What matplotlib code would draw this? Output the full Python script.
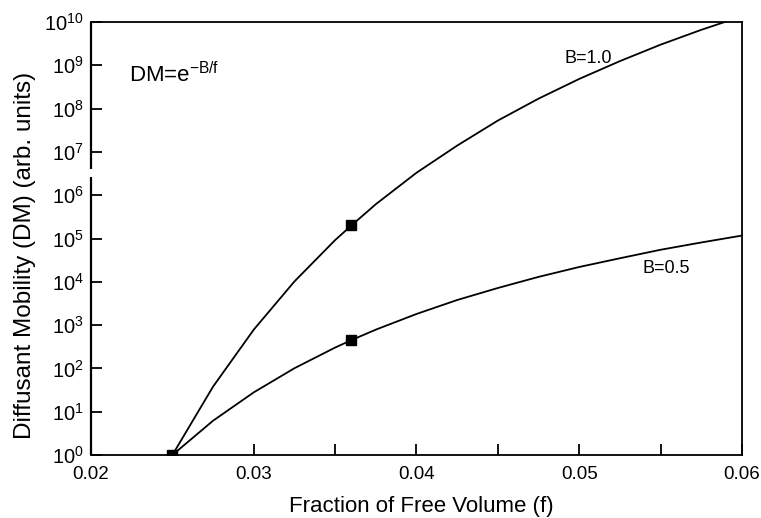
import numpy as np
import matplotlib
matplotlib.use("Agg")
import matplotlib.pyplot as plt

plt.rcParams['font.family'] = ['Liberation Sans', 'DejaVu Sans']
plt.rcParams['mathtext.fontset'] = 'custom'
plt.rcParams['mathtext.rm'] = 'Liberation Sans'
plt.rcParams['mathtext.it'] = 'Liberation Sans:italic'

# Fraction of free volume sample points
f_vals = [0.025, 0.0275, 0.030, 0.0325, 0.035, 0.036, 0.0375, 0.040, 0.0425,
          0.045, 0.0475, 0.050, 0.0525, 0.055, 0.0575, 0.060]
# Diffusant mobility curves (arb. units)
dm_b10 = [1.0, 38, 786, 1.02e4, 9.2e4, 2.0e5, 6.2e5, 3.3e6, 1.4e7,
          5.3e7, 1.7e8, 4.85e8, 1.25e9, 3.0e9, 6.6e9, 1.36e10]
dm_b05 = [1.0, 6.2, 28, 101, 303, 450, 786, 1808, 3.8e3,
          7.2e3, 1.3e4, 2.2e4, 3.5e4, 5.5e4, 8.1e4, 1.17e5]
# Highlighted points
mark_f = [0.025, 0.036, 0.036]
mark_dm = [1.0, 2.0e5, 450]

xticks = [0.02, 0.03, 0.04, 0.05, 0.06]
xtick_labels = ['0.02', '0.03', '0.04', '0.05', '0.06']
xminor = [0.035, 0.045, 0.055]
yexp = list(range(0, 11))

fig = plt.figure(figsize=(7.61, 5.18), dpi=100)
ax = fig.add_axes([0.1196, 0.1216, 0.8554, 0.8359])

ax.plot(f_vals, dm_b10, color='black', lw=1.3)
ax.plot(f_vals, dm_b05, color='black', lw=1.3)
ax.plot(mark_f, mark_dm, 's', color='black', ms=7.5, zorder=5)

ax.set_yscale('log')
ax.set_xlim(0.02, 0.06)
ax.set_ylim(1, 1e10)
ax.set_xticks(xticks)
ax.set_xticklabels(xtick_labels)
ax.set_xticks(xminor, minor=True)
ax.set_yticks([10.0 ** e for e in yexp])
ax.set_yticklabels([r'$10^{%d}$' % e for e in yexp])
ax.yaxis.set_minor_locator(matplotlib.ticker.NullLocator())

ax.tick_params(which='both', direction='in', top=False, right=False,
               width=1.3, length=8)
ax.tick_params(axis='x', labelsize=13.5, pad=8)
ax.tick_params(axis='y', labelsize=14.5, pad=5)

for s in ax.spines.values():
    s.set_linewidth(1.3)

# Left spine drawn in two pieces with a break between 10^6 and 10^7
ax.spines['left'].set_visible(False)
trans = ax.get_yaxis_transform()
ax.plot([0, 0], [1, 10 ** 6.42], transform=trans, color='black', lw=1.6,
        clip_on=False, solid_capstyle='butt')
ax.plot([0, 0], [10 ** 6.61, 1e10], transform=trans, color='black', lw=1.6,
        clip_on=False, solid_capstyle='butt')

ax.set_xlabel('Fraction of Free Volume (f)', fontsize=16, labelpad=9)
ax.set_ylabel('Diffusant Mobility (DM) (arb. units)', fontsize=17.5)
ax.xaxis.set_label_coords(0.508, -0.095)
ax.yaxis.set_label_coords(-0.084, 0.462)

ax.text(0.02233, 10 ** 8.6, r'DM=e$^{\mathregular{-B/f}}$', fontsize=16)
ax.text(0.04912, 10 ** 9.05, 'B=1.0', fontsize=13)
ax.text(0.0539, 10 ** 4.2, 'B=0.5', fontsize=13)

fig.savefig('out.png', dpi=100)
